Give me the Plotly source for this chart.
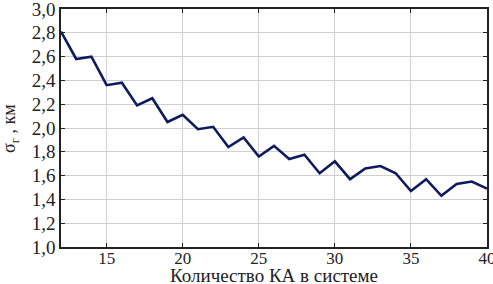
import plotly.graph_objects as go

n_sats = list(range(12, 41))
sigma_r = [2.81, 2.58, 2.60, 2.36, 2.38, 2.19, 2.25, 2.05, 2.11, 1.99, 2.01,
           1.84, 1.92, 1.76, 1.85, 1.74, 1.775, 1.62, 1.72, 1.57, 1.66, 1.68,
           1.62, 1.47, 1.57, 1.43, 1.53, 1.55, 1.49]

x_ticks = [15, 20, 25, 30, 35, 40]
y_ticks = [1.0, 1.2, 1.4, 1.6, 1.8, 2.0, 2.2, 2.4, 2.6, 2.8, 3.0]
x_title = "Количество КА в системе"
y_title = "σ<sub>г</sub> , км"

fig = go.Figure()
fig.add_trace(go.Scatter(x=n_sats, y=sigma_r, mode="lines",
                         line=dict(color="#0d1b5e", width=2.6)))

font_family = "Liberation Serif"
fig.update_layout(
    width=493, height=284,
    margin=dict(l=61, r=6, t=9, b=37, autoexpand=False),
    paper_bgcolor="white", plot_bgcolor="white",
    separators=", ",
    showlegend=False,
    font=dict(family=font_family, color="#222222"),
)
fig.update_xaxes(
    range=[12, 40], tickvals=x_ticks, tickformat=".0f",
    automargin=False, ticklabeloverflow="allow", ticklabelstandoff=-5,
    showgrid=True, gridcolor="#cfcfcf", gridwidth=1.3,
    showline=True, linecolor="#222222", linewidth=1.5, mirror="ticks",
    ticks="inside", ticklen=4, tickcolor="#222222",
    tickfont=dict(size=17, family=font_family),
    zeroline=False,
)
fig.update_yaxes(
    range=[1.0, 3.0], tickvals=y_ticks, tickformat=".1f",
    automargin=False, ticklabeloverflow="allow",
    showgrid=True, gridcolor="#cfcfcf", gridwidth=1.3,
    showline=True, linecolor="#222222", linewidth=1.5, mirror="ticks",
    ticks="inside", ticklen=4, tickcolor="#222222",
    tickfont=dict(size=19, family=font_family),
    zeroline=False,
)
fig.add_annotation(text=x_title, xref="paper", yref="paper",
                   x=0.5, y=-0.118, xanchor="center", yanchor="middle",
                   showarrow=False, font=dict(size=19, family=font_family))
fig.add_annotation(text=y_title, xref="paper", yref="paper",
                   x=-0.12, y=0.5, xanchor="center", yanchor="middle",
                   textangle=-90, showarrow=False,
                   font=dict(size=18, family=font_family))

fig.write_html("out.html", config={"displayModeBar": False},
               post_script="document.body.style.margin='0px';")
